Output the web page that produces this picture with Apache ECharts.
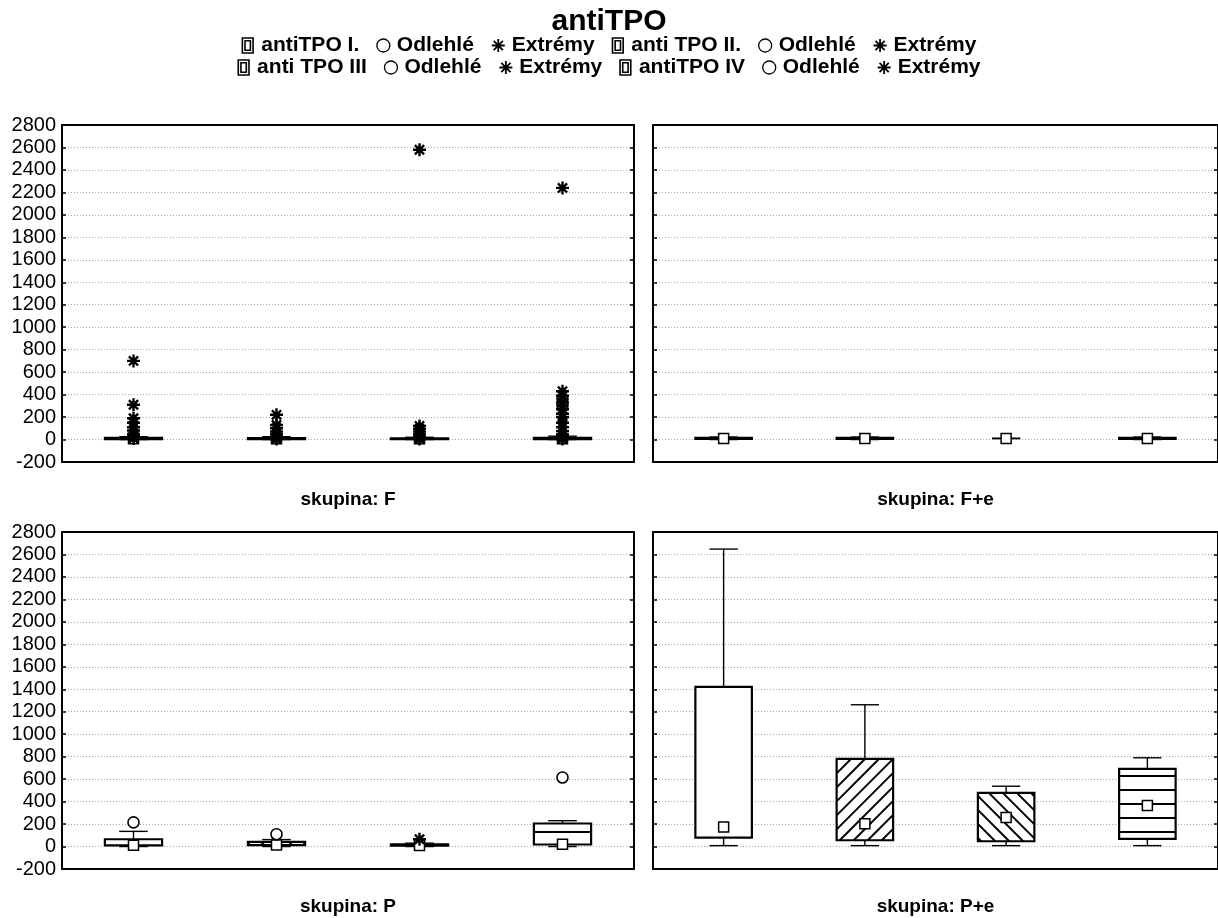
<!DOCTYPE html>
<html>
<head>
<meta charset="utf-8">
<script src="https://cdn.jsdelivr.net/npm/echarts@6/dist/echarts.min.js"></script>
<style>
  html, body { margin: 0; padding: 0; background: #fff; }
  #chart { width: 1218px; height: 918px; }
</style>
</head>
<body>
<div id="chart"></div>
<script>
// Variables (one box per variable in every panel) and the four patient groups
const variables = ['antiTPO I.', 'anti TPO II.', 'anti TPO III', 'antiTPO IV'];
const groups = ['skupina: F', 'skupina: F+e', 'skupina: P', 'skupina: P+e'];

// Value axis ticks
const yMin = -200;
const yMax = 2800;
const yStep = 200;

// Box statistics per variable: [non-outlier min, 25 %, median, 75 %, non-outlier max]
const boxF  = [[0, 3, 8, 14, 25], [0, 4, 8, 12, 25], [0, 4, 7, 10, 20], [0, 4, 8, 14, 30]];
const boxFe = [[0, 5, 10, 15, 22], [0, 5, 10, 15, 22], [8, 10, 10, 10, 12], [0, 5, 10, 15, 22]];
const boxP  = [[0, 10, 12, 65, 135], [0, 12, 14, 42, 62], [0, 8, 10, 20, 30], [0, 18, 20, 205, 230]];
const boxPe = [[8, 80, 175, 1422, 2648], [8, 56, 202, 781, 1262], [8, 47, 258, 478, 537], [8, 68, 365, 691, 790]];

// Outliers ("Odlehlé") per variable
const outF  = [[], [], [], [360, 300]];
const outFe = [[], [], [], []];
const outP  = [[215], [110], [], [615]];
const outPe = [[], [], [], []];

// Extremes ("Extrémy") per variable
const extF  = [[700, 310, 190, 150, 110, 80, 50, 30, 10],
               [220, 130, 100, 70, 45, 20, 5],
               [2580, 120, 95, 70, 45, 20, 5],
               [2240, 430, 390, 330, 270, 230, 200, 150, 110, 75, 45, 20, 5]];
const extFe = [[], [], [], []];
const extP  = [[], [], [65], []];
const extPe = [[], [], [], []];

const boxes = [boxF, boxFe, boxP, boxPe];
const outliers = [outF, outFe, outP, outPe];
const extremes = [extF, extFe, extP, extPe];

// Fill patterns of the four boxes: plain, "/", "\", horizontal stripes
const patterns = ['none', 'slash', 'backslash', 'horizontal'];

const FONT = '"Liberation Sans", Arial, Helvetica, sans-serif';
const ASTERISK = 'path://M6,0L6,12M0,6L12,6M1.76,1.76L10.24,10.24M1.76,10.24L10.24,1.76';
const BOX_ICON = 'path://M0,0H10V14H0ZM2.5,2.5H7.5V11.5H2.5Z';

function hatchLines(kind, x0, x1, yT, yB) {
  const out = [];
  const gap = 14;
  const style = { stroke: '#000', lineWidth: 2 };
  if (kind === 'slash') {            // x + y = c
    const cStart = Math.ceil((x0 + yT) / gap) * gap;
    for (let c = cStart; c <= x1 + yB; c += gap) {
      const xa = Math.max(x0, c - yB), xb = Math.min(x1, c - yT);
      if (xb > xa) out.push({ type: 'line', shape: { x1: xa, y1: c - xa, x2: xb, y2: c - xb }, style });
    }
  } else if (kind === 'backslash') { // y - x = c
    const cStart = Math.ceil((yT - x1) / gap) * gap;
    for (let c = cStart; c <= yB - x0; c += gap) {
      const xa = Math.max(x0, yT - c), xb = Math.min(x1, yB - c);
      if (xb > xa) out.push({ type: 'line', shape: { x1: xa, y1: xa + c, x2: xb, y2: xb + c }, style });
    }
  } else if (kind === 'horizontal') {
    const yStart = Math.ceil(yT / gap) * gap + 6;
    for (let y = yStart; y < yB; y += gap) {
      out.push({ type: 'line', shape: { x1: x0, y1: y, x2: x1, y2: y }, style: { stroke: '#000', lineWidth: 2.2 } });
    }
  }
  return out;
}

function boxRenderer(kind) {
  return function (params, api) {
    const c = api.value(0);
    const cx = api.coord([c, 0])[0];
    const yLo = api.coord([c, api.value(1)])[1];
    const yQ1 = api.coord([c, api.value(2)])[1];
    const yMed = api.coord([c, api.value(3)])[1];
    const yQ3 = api.coord([c, api.value(4)])[1];
    const yHi = api.coord([c, api.value(5)])[1];
    const band = api.size([1, 0])[0];
    const hb = band * 0.2, hc = band * 0.1;
    const thin = { stroke: '#000', lineWidth: 1.4 };
    const kids = [];
    kids.push({ type: 'line', shape: { x1: cx, y1: yQ3, x2: cx, y2: yHi }, style: thin });
    kids.push({ type: 'line', shape: { x1: cx, y1: yQ1, x2: cx, y2: yLo }, style: thin });
    kids.push({ type: 'line', shape: { x1: cx - hc, y1: yHi, x2: cx + hc, y2: yHi }, style: thin });
    kids.push({ type: 'line', shape: { x1: cx - hc, y1: yLo, x2: cx + hc, y2: yLo }, style: thin });
    if (yQ1 - yQ3 > 0.2) {
      kids.push({ type: 'rect', shape: { x: cx - hb, y: yQ3, width: 2 * hb, height: yQ1 - yQ3 },
                  style: { fill: '#fff', stroke: null } });
      hatchLines(kind, cx - hb, cx + hb, yQ3, yQ1).forEach(l => kids.push(l));
      kids.push({ type: 'rect', shape: { x: cx - hb, y: yQ3, width: 2 * hb, height: yQ1 - yQ3 },
                  style: { fill: 'none', stroke: '#000', lineWidth: 2.2 } });
    }
    kids.push({ type: 'rect', shape: { x: cx - 5, y: yMed - 5, width: 10, height: 10 },
                style: { fill: '#fff', stroke: '#000', lineWidth: 1.5 } });
    return { type: 'group', children: kids };
  };
}

const gridBoxes = [
  { left: 62,  top: 125, width: 572, height: 337 },
  { left: 653, top: 125, width: 572, height: 337 },
  { left: 62,  top: 532, width: 572, height: 337 },
  { left: 653, top: 532, width: 572, height: 337 }
];

const axisLine = { onZero: false, lineStyle: { color: '#000', width: 2 } };
const xAxes = [], yAxes = [], series = [];

gridBoxes.forEach((g, gi) => {
  xAxes.push({
    type: 'category', gridIndex: gi, position: 'bottom', data: variables,
    axisLine, axisTick: { inside: true, length: 5, lineStyle: { color: '#000', width: 1.5 } },
    axisLabel: { show: false }, splitLine: { show: false },
    name: groups[gi], nameLocation: 'middle', nameGap: 28,
    nameTextStyle: { fontFamily: FONT, fontSize: 19, fontWeight: 'bold', color: '#000' }
  });
  xAxes.push({
    type: 'category', gridIndex: gi, position: 'top', data: variables,
    axisLine, axisTick: { inside: true, length: 5, lineStyle: { color: '#000', width: 1.5 } },
    axisLabel: { show: false }, splitLine: { show: false }
  });
  const showLabels = gi === 0 || gi === 2;
  yAxes.push({
    type: 'value', gridIndex: gi, position: 'left', min: yMin, max: yMax, interval: yStep,
    axisLine: { show: true, onZero: false, lineStyle: { color: '#000', width: 2 } },
    axisTick: { show: true, inside: true, length: 4, lineStyle: { color: '#000', width: 1.5 } },
    axisLabel: { show: showLabels, fontFamily: FONT, fontSize: 20, color: '#000', margin: 6,
                 formatter: v => String(v) },
    splitLine: { show: true, lineStyle: { type: [1, 2], color: '#a8a8a8', width: 1 } }
  });
  yAxes.push({
    type: 'value', gridIndex: gi, position: 'right', min: yMin, max: yMax, interval: yStep,
    axisLine: { show: true, onZero: false, lineStyle: { color: '#000', width: 2 } },
    axisTick: { show: true, inside: true, length: 4, lineStyle: { color: '#000', width: 1.5 } },
    axisLabel: { show: false }, splitLine: { show: false }
  });

  variables.forEach((v, vi) => {
    const s = boxes[gi][vi];
    series.push({
      type: 'custom', name: v, xAxisIndex: 2 * gi, yAxisIndex: 2 * gi, z: 3,
      renderItem: boxRenderer(patterns[vi]),
      encode: { x: 0, y: [1, 2, 3, 4, 5] },
      itemStyle: { color: '#fff', borderColor: '#000' },
      data: [[vi, ...s]], silent: true
    });
    series.push({
      type: 'scatter', name: 'Odlehlé#' + vi, xAxisIndex: 2 * gi, yAxisIndex: 2 * gi, z: 4,
      symbol: 'circle', symbolSize: 11,
      itemStyle: { color: '#fff', borderColor: '#000', borderWidth: 1.6, opacity: 1 },
      data: outliers[gi][vi].map(y => [vi, y]), silent: true
    });
    series.push({
      type: 'scatter', name: 'Extrémy#' + vi, xAxisIndex: 2 * gi, yAxisIndex: 2 * gi, z: 5,
      symbol: ASTERISK, symbolSize: 13,
      itemStyle: { color: '#000', borderColor: '#000', borderWidth: 2.4, opacity: 1 },
      data: extremes[gi][vi].map(y => [vi, y]), silent: true
    });
  });
});

function legendItems(list) {
  const items = [];
  list.forEach(vi => {
    items.push({ name: variables[vi], icon: BOX_ICON,
                 itemStyle: { color: '#fff', borderColor: '#000', borderWidth: 1.6 } });
    items.push({ name: 'Odlehlé#' + vi, icon: 'circle',
                 itemStyle: { color: '#fff', borderColor: '#000', borderWidth: 1.3 } });
    items.push({ name: 'Extrémy#' + vi, icon: ASTERISK,
                 itemStyle: { color: '#000', borderColor: '#000', borderWidth: 1.8 } });
  });
  return items;
}

const legendBase = {
  left: 'center', orient: 'horizontal', selectedMode: false, padding: 0,
  itemWidth: 13, itemHeight: 15, itemGap: 17,
  formatter: name => name.replace(/#\d$/, ''),
  textStyle: { fontFamily: FONT, fontSize: 21, fontWeight: 'bold', color: '#000', padding: [0, 0, 0, 2] }
};

const option = {
  animation: false,
  backgroundColor: '#fff',
  title: {
    text: 'antiTPO', left: 'center', top: 7, padding: 0,
    textStyle: { fontFamily: FONT, fontSize: 30, fontWeight: 'bold', color: '#000' }
  },
  legend: [
    Object.assign({}, legendBase, { top: 35, data: legendItems([0, 1]) }),
    Object.assign({}, legendBase, { top: 57, data: legendItems([2, 3]) })
  ],
  grid: gridBoxes.map(g => Object.assign({ containLabel: false }, g)),
  xAxis: xAxes,
  yAxis: yAxes,
  series
};

const chart = echarts.init(document.getElementById('chart'), null, { renderer: 'canvas' });
chart.setOption(option);
</script>
</body>
</html>
